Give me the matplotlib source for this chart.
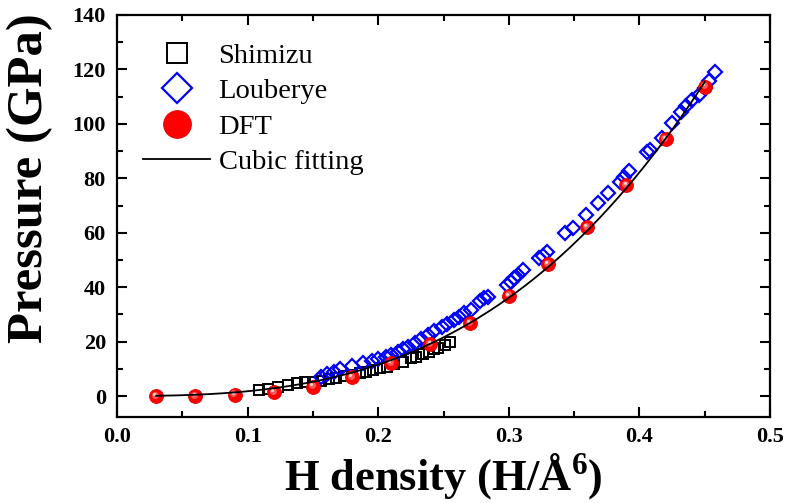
import numpy as np
import matplotlib
matplotlib.use("Agg")
import matplotlib.pyplot as plt
from matplotlib import transforms
from matplotlib.ticker import MultipleLocator

# ---- data ----
shimizu_x = [0.109, 0.116, 0.123, 0.131, 0.138, 0.144, 0.150, 0.156, 0.162, 0.168,
             0.174, 0.180, 0.186, 0.191, 0.196, 0.201, 0.207, 0.212, 0.219, 0.225,
             0.229, 0.234, 0.239, 0.243, 0.246, 0.251, 0.255]
shimizu_y = [2.1, 2.6, 3.4, 4.2, 4.7, 5.0, 5.3, 5.7, 6.2, 6.7,
             7.2, 7.8, 8.3, 8.8, 9.5, 10.2, 10.8, 11.6, 12.6, 13.8,
             14.5, 15.5, 16.3, 17.2, 17.8, 18.7, 19.8]

louberye_x = [0.156, 0.161, 0.166, 0.171, 0.180, 0.188, 0.195, 0.200, 0.206, 0.210,
              0.215, 0.219, 0.223, 0.228, 0.233, 0.238, 0.243, 0.249, 0.253, 0.258,
              0.262, 0.266, 0.271, 0.278, 0.281, 0.284, 0.299, 0.302, 0.304, 0.307,
              0.311, 0.323, 0.326, 0.329, 0.343, 0.349, 0.359, 0.368, 0.376, 0.385,
              0.388, 0.392, 0.406, 0.408, 0.417, 0.425, 0.432, 0.436, 0.440, 0.446,
              0.450, 0.453, 0.458]
louberye_y = [7.1, 8.0, 8.8, 9.8, 11.2, 12.3, 13.0, 13.5, 14.5, 15.1,
              16.3, 17.2, 18.0, 19.5, 20.8, 22.4, 23.8, 25.5, 26.5, 27.9,
              29.2, 30.4, 31.6, 34.8, 35.9, 36.5, 40.8, 41.8, 43.3, 44.5,
              46.3, 50.6, 51.5, 53.1, 60.0, 61.6, 66.5, 70.8, 74.5, 78.8,
              80.5, 82.5, 89.8, 90.5, 94.7, 100.3, 104.5, 106.5, 108.8, 110.7,
              113.0, 115.6, 119.2]

dft_x = [0.03, 0.06, 0.09, 0.12, 0.15, 0.18, 0.21, 0.24, 0.27, 0.30,
         0.33, 0.36, 0.39, 0.42, 0.45]
dft_y = [0.0, 0.0, 0.5, 1.5, 3.5, 7.0, 12.0, 19.0, 26.9, 36.9,
         48.5, 62.0, 77.5, 94.5, 113.7]

xticks = [0.0, 0.1, 0.2, 0.3, 0.4, 0.5]
yticks = [0, 20, 40, 60, 80, 100, 120, 140]

# ---- style ----
plt.rcParams['font.family'] = ['Liberation Serif', 'DejaVu Serif']
plt.rcParams['mathtext.fontset'] = 'custom'
plt.rcParams['mathtext.rm'] = 'Liberation Serif:bold'
plt.rcParams['mathtext.bf'] = 'Liberation Serif:bold'

fig = plt.figure(figsize=(7.88, 5.03), dpi=100)
ax = fig.add_axes([117/788, 1-417/503, (770-117)/788, (417-15)/503])

# cubic fit of DFT points (x^2 and x^3 terms, curve through origin)
dx = np.asarray(dft_x)
dy = np.asarray(dft_y)
A = np.column_stack([dx**2, dx**3])
c2, c3 = np.linalg.lstsq(A, dy, rcond=None)[0]
fx = np.linspace(dx.min(), dx.max(), 300)
fy = c2 * fx**2 + c3 * fx**3

ax.plot(shimizu_x, shimizu_y, linestyle='none', marker='s', ms=7.2,
        mfc='none', mec='black', mew=1.4, label='Shimizu', zorder=2)
ax.plot(louberye_x, louberye_y, linestyle='none', marker='D', ms=7.4,
        mfc='none', mec='#0000ff', mew=1.6, label='Louberye', zorder=3)
ax.plot(dft_x, dft_y, linestyle='none', marker='o', ms=10,
        mfc='#ff0000', mec='#e00000', mew=0.6, label='DFT', zorder=4)
off1 = transforms.offset_copy(ax.transData, fig=fig, x=-0.8, y=0.9, units='points')
ax.plot(dft_x, dft_y, linestyle='none', marker='o', ms=5,
        mfc='#ff5a5a', mec='none', transform=off1, zorder=4.1)
off2 = transforms.offset_copy(ax.transData, fig=fig, x=-1.3, y=1.5, units='points')
ax.plot(dft_x, dft_y, linestyle='none', marker='o', ms=2.2,
        mfc='#ffd8d8', mec='none', transform=off2, zorder=4.2)
ax.plot(fx, fy, color='black', lw=1.3, label='Cubic fitting', zorder=5)

ax.set_xlim(0, 0.5)
ax.set_ylim(-7.7, 140)
ax.set_xticks(xticks)
ax.set_yticks(yticks)
ax.set_xticklabels([f'{t:.1f}' for t in xticks])
ax.set_yticklabels([str(t) for t in yticks])
ax.xaxis.set_minor_locator(MultipleLocator(0.05))
ax.yaxis.set_minor_locator(MultipleLocator(10))
ax.tick_params(which='both', direction='in', top=True, right=True, width=1.5)
ax.tick_params(which='major', length=7)
ax.tick_params(which='minor', length=4)
ax.tick_params(axis='y', which='major', pad=8)
ax.tick_params(axis='x', which='major', pad=7)
for lab in ax.get_xticklabels() + ax.get_yticklabels():
    lab.set_fontsize(16)
    lab.set_fontweight('bold')
for s in ax.spines.values():
    s.set_linewidth(1.6)

ax.set_xlabel(r'H density (H/Å$^{\mathbf{6}}$)', fontsize=32, fontweight='bold')
ax.xaxis.set_label_coords(0.5, -0.085)
ax.xaxis.label.set_va('top')
ax.set_ylabel('Pressure (GPa)', fontsize=36.5, fontweight='bold')
ax.yaxis.set_label_coords(-0.098, 0.595)

leg = ax.legend(loc='upper left', bbox_to_anchor=(0.04, 0.93), frameon=False,
                fontsize=20.5, markerscale=2.0, handlelength=2.35, handletextpad=0.3,
                labelspacing=0.33, borderpad=0, borderaxespad=0)

fig.savefig('out.png', dpi=100)
